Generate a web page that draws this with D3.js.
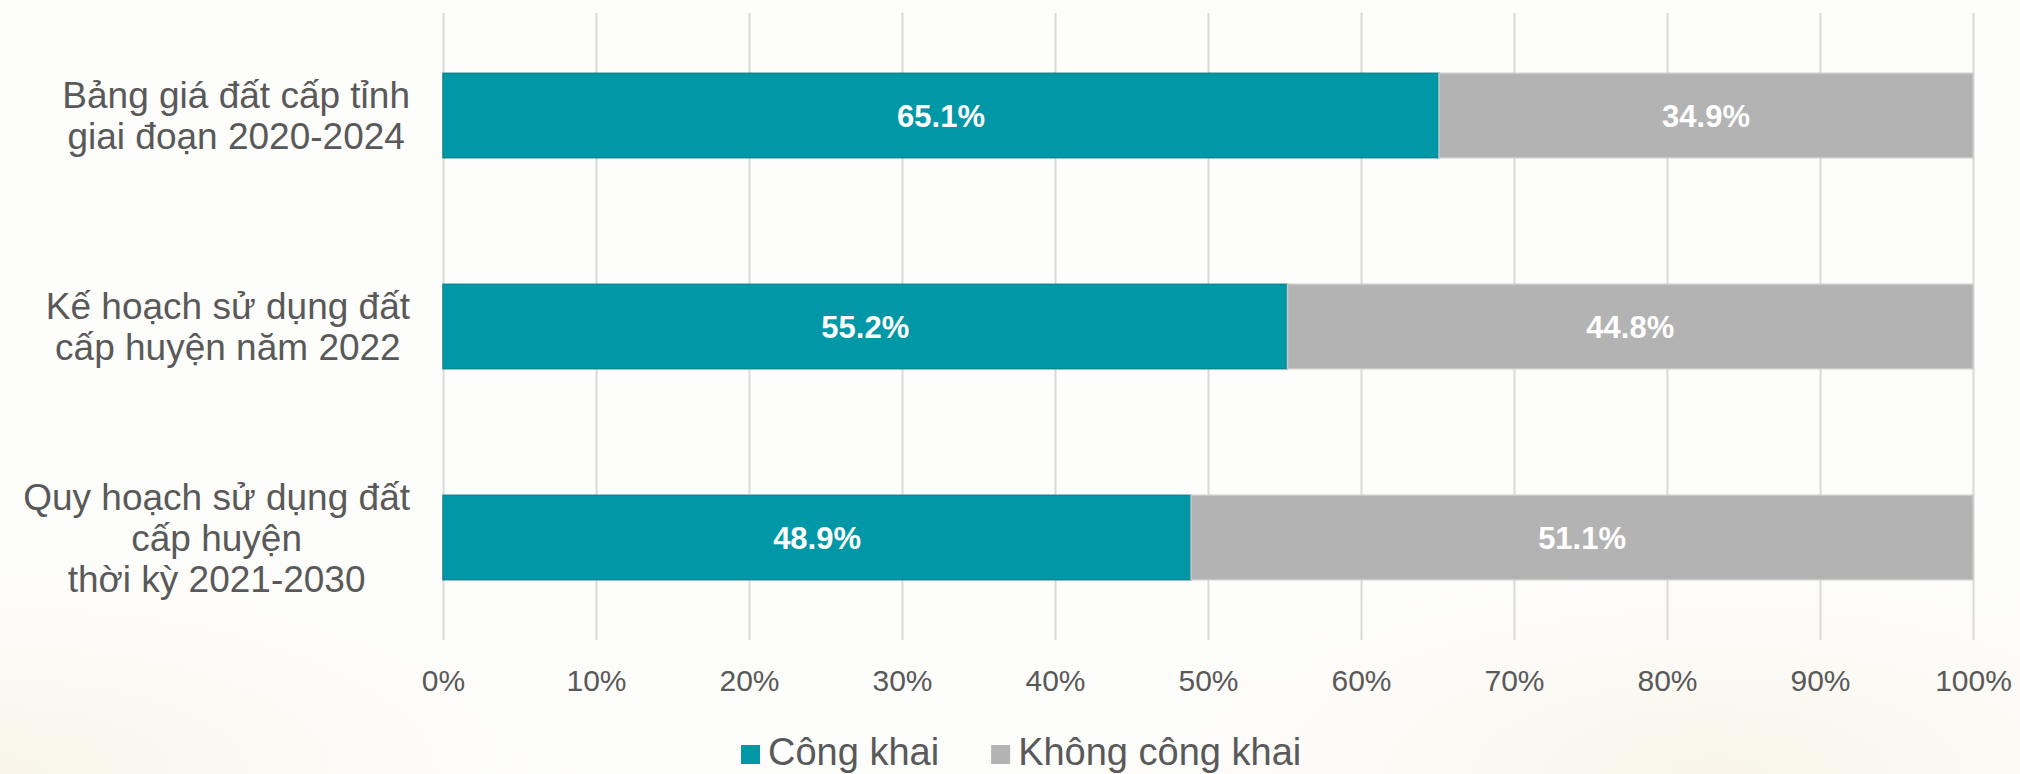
<!DOCTYPE html>
<html>
<head>
<meta charset="utf-8">
<script src="https://cdn.jsdelivr.net/npm/d3@7"></script>
<style>
  body { margin: 0; background: #fdfdfc; }
  svg { display: block; font-family: "Liberation Sans", Arial, sans-serif; }
</style>
</head>
<body>
<div id="chart"></div>
<script>
const categories = [
  ["Bảng giá đất cấp tỉnh", "giai đoạn 2020-2024"],
  ["Kế hoạch sử dụng đất", "cấp huyện năm 2022"],
  ["Quy hoạch sử dụng đất", "cấp huyện", "thời kỳ 2021-2030"]
];
const congKhai = [65.1, 55.2, 48.9];
const khongCongKhai = [34.9, 44.8, 51.1];
const seriesNames = ["Công khai", "Không công khai"];
const tickValues = [0, 10, 20, 30, 40, 50, 60, 70, 80, 90, 100];

const width = 2020, height = 774;
const colors = ["#0097a7", "#b3b3b3"];
const strokes = ["#0b8693", "#c9c9c9"];
const textColor = "#595959";

const svg = d3.select("#chart")
  .append("svg")
  .attr("width", width)
  .attr("height", height);

// faint background decoration
const defs = svg.append("defs");
[["bgL", "0%", "100%"], ["bgR", "85%", "100%"]].forEach(([id, cx, cy]) => {
  const g = defs.append("radialGradient").attr("id", id).attr("cx", cx).attr("cy", cy).attr("r", "40%");
  g.append("stop").attr("offset", "0%").attr("stop-color", "#f6efdc").attr("stop-opacity", 0.6);
  g.append("stop").attr("offset", "100%").attr("stop-color", "#fdfdfc").attr("stop-opacity", 0);
});
svg.append("rect").attr("width", width).attr("height", height).attr("fill", "#fdfdfc");
svg.append("rect").attr("width", width).attr("height", height).attr("fill", "url(#bgL)");
svg.append("rect").attr("width", width).attr("height", height).attr("fill", "url(#bgR)");

const x = d3.scaleLinear()
  .domain([0, 100])
  .range([443, 1973]);

const y = d3.scaleBand()
  .domain(d3.range(categories.length))
  .range([10, 643])
  .paddingInner(0.6)
  .paddingOuter(0.3);

// gridlines + tick labels
const axis = svg.append("g")
  .attr("transform", "translate(0,640)")
  .call(d3.axisBottom(x)
    .tickValues(tickValues)
    .tickSize(-627)
    .tickPadding(30)
    .tickFormat(d => d + "%"));
axis.select(".domain").remove();
axis.selectAll(".tick line").attr("stroke", "#d9d9d9").attr("stroke-width", 2);
axis.selectAll(".tick text")
  .attr("fill", textColor)
  .style("font-size", "30px")
  .style("font-family", "'Liberation Sans', Arial, sans-serif");

// stacked bars
const rows = categories.map((c, i) => ({ i, values: [congKhai[i], khongCongKhai[i]] }));
const stack = d3.stack().keys([0, 1]).value((d, k) => d.values[k]);
const layers = stack(rows);

const layer = svg.append("g")
  .selectAll("g")
  .data(layers)
  .join("g");

layer.selectAll("rect")
  .data((L, k) => L.map(d => ({ d, k })))
  .join("rect")
  .attr("x", o => x(o.d[0]))
  .attr("y", o => y(o.d.data.i))
  .attr("width", o => x(o.d[1]) - x(o.d[0]))
  .attr("height", y.bandwidth())
  .attr("fill", o => colors[o.k])
  .attr("stroke", o => strokes[o.k])
  .attr("stroke-width", 1.5);

layer.selectAll("text")
  .data((L, k) => L.map(d => ({ d, k })))
  .join("text")
  .attr("x", o => x((o.d[0] + o.d[1]) / 2))
  .attr("y", o => y(o.d.data.i) + y.bandwidth() / 2)
  .attr("dy", "0.36em")
  .attr("text-anchor", "middle")
  .attr("fill", "#fff")
  .style("font-size", "31px")
  .style("font-weight", "bold")
  .text(o => (o.d[1] - o.d[0]).toFixed(1) + "%");

// category labels, lines centred on each other, block right-aligned
const labelRight = 410;
const lineH = 41;
categories.forEach((lines, i) => {
  const g = svg.append("g");
  const cy = y(i) + y.bandwidth() / 2;
  const t = g.selectAll("text")
    .data(lines)
    .join("text")
    .attr("y", (d, j) => cy + (j - (lines.length - 1) / 2) * lineH)
    .attr("dy", "0.36em")
    .attr("text-anchor", "middle")
    .attr("fill", textColor)
    .style("font-size", "37px")
    .text(d => d);
  const maxW = d3.max(t.nodes(), n => n.getComputedTextLength());
  t.attr("x", labelRight - maxW / 2);
});

// legend
const legend = svg.append("g").attr("transform", "translate(741,745)");
let lx = 0;
seriesNames.forEach((name, k) => {
  legend.append("rect")
    .attr("x", lx)
    .attr("y", 0)
    .attr("width", 19)
    .attr("height", 19)
    .attr("fill", colors[k]);
  const t = legend.append("text")
    .attr("x", lx + 27)
    .attr("y", 20)
    .attr("fill", textColor)
    .style("font-size", "38px")
    .text(name);
  lx += 27 + t.node().getComputedTextLength() + 52;
});
</script>
</body>
</html>
